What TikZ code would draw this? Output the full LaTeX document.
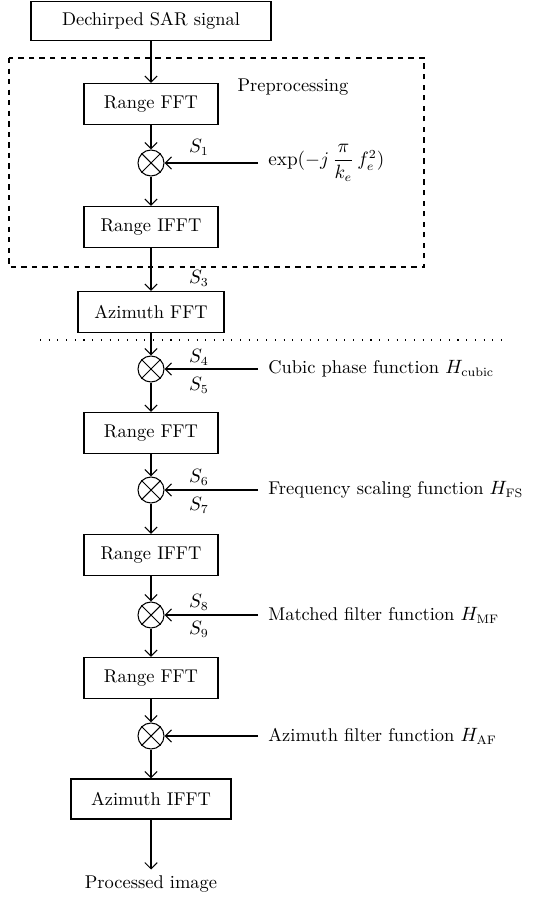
\documentclass[tikz,border=0pt]{standalone}
\usepackage{amsmath}
\usepackage{amssymb}
\usepackage{tikz}
\usetikzlibrary{shapes,arrows,arrows.meta}

\begin{document}
\begin{tikzpicture}[x=0.02cm, y=-0.02cm,
        >={Straight Barb[length=3.5pt,width=7pt]},
        every node/.style={font=\fontsize{10.5}{12.5}\selectfont},
        block/.style={draw, semithick, minimum width=#1, minimum height=0.82cm, inner sep=0pt},
        block/.default=2.68cm,
        mixer/.style={draw, semithick, circle, minimum size=0.52cm, inner sep=0pt},
        func/.style={anchor=west, inner xsep=5.7pt}]

        \useasboundingbox (0,0) rectangle (546,901);

        % main chain
        \node[block=4.8cm, minimum height=0.78cm] (sig) at (151,21) {Dechirped SAR signal};
        \node[block] (fft1) at (151,104) {Range FFT};
        \node[mixer] (m1) at (151,163) {};
        \node[block] (ifft1) at (151,227) {Range IFFT};
        \node[block=2.92cm] (aft) at (151,312) {Azimuth FFT};
        \node[mixer] (m2) at (151,369) {};
        \node[block] (fft2) at (151,433) {Range FFT};
        \node[mixer] (m3) at (151,490) {};
        \node[block] (ifft2) at (151,555) {Range IFFT};
        \node[mixer] (m4) at (151,615) {};
        \node[block] (fft3) at (151,678) {Range FFT};
        \node[mixer] (m5) at (151,736) {};
        \node[block=3.2cm, minimum height=0.8cm] (aifft) at (151,799) {Azimuth IFFT};
        \node (out) at (151,884) {Processed image};

        \foreach \a/\b in {sig/fft1, fft1/m1, m1/ifft1, ifft1/aft, aft/m2, m2/fft2, fft2/m3,
                m3/ifft2, ifft2/m4, m4/fft3, fft3/m5, m5/aifft, aifft/out}
        \draw[semithick, ->] (\a) -- (\b);

        \foreach \m in {m1,m2,m3,m4,m5}
        {
        \draw[semithick] (\m.north east) -- (\m.south west);
        \draw[semithick] (\m.north west) -- (\m.south east);
        }

        % inputs from the right
        \node[func] (hexp) at (258,163) {$\exp(-j\,\dfrac{\pi}{k_e}\,f_e^2)$};
        \node[func] (hcub) at (258,369) {Cubic phase function $H_{\mathrm{cubic}}$};
        \node[func] (hfs) at (258,490) {Frequency scaling function $H_{\mathrm{FS}}$};
        \node[func] (hmf) at (258,615) {Matched filter function $H_{\mathrm{MF}}$};
        \node[func] (haf) at (258,736) {Azimuth filter function $H_{\mathrm{AF}}$};

        \foreach \h/\m in {hexp/m1, hcub/m2, hfs/m3, hmf/m4, haf/m5}
        \draw[semithick, ->] (\h.west) -- (\m);

        % signal labels
        \node (s1) at (199,147) {$S_1$};
        \node (s3) at (199,278) {$S_3$};
        \node (s4) at (199,357) {$S_4$};
        \node (s5) at (199,385) {$S_5$};
        \node (s6) at (199,477) {$S_6$};
        \node (s7) at (199,505) {$S_7$};
        \node (s8) at (199,602) {$S_8$};
        \node (s9) at (199,629) {$S_9$};

        % preprocessing part
        \draw[semithick, dashed] (9,58) rectangle (424,267);
        \node (pre) at (293,87) {Preprocessing};

        \draw[semithick, dash pattern=on 0.6pt off 4.35pt] (40,340) -- (502,340);

\end{tikzpicture}
\end{document}
